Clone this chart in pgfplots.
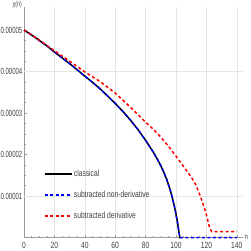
\documentclass[border=0pt]{standalone}
\usepackage{fontspec}
\setmainfont{Liberation Sans}[FakeStretch=0.75]
\newfontfamily\narrowfont{Liberation Sans}[FakeStretch=0.67]
\usepackage{pgfplots}
\pgfplotsset{compat=1.18}
\definecolor{gridc}{gray}{0.9}
\definecolor{axc}{gray}{0.6}
\definecolor{txt}{gray}{0.25}
\begin{document}
\begin{tikzpicture}
\begin{axis}[
  x=1.52bp, y=41.5bp,
  xmin=0, xmax=144, ymin=0, ymax=5.55,
  axis lines=left,
  axis line style={axc, line width=0.5bp, -},
  xtick={0,20,40,60,80,100,120,140},
  xticklabels={0,20,40,60,80,100,120,140},
  ytick={1,2,3,4,5},
  yticklabels={0.00001,0.00002,0.00003,0.00004,0.00005},
  minor x tick num=3, minor y tick num=3,
  tick align=inside,
  major tick length=3bp, minor tick length=1.8bp,
  tick style={axc, line width=0.5bp},
  every tick label/.append style={font=\fontsize{9}{10}\selectfont, text=txt},
  xticklabel style={inner sep=1bp, yshift=-3.5bp},
  yticklabel style={inner sep=1bp, xshift=-0.5bp, font=\narrowfont\fontsize{9}{10}\selectfont},
  xmajorgrids,
  grid style={gridc, line width=0.5bp},
  extra y ticks={1,4}, extra y tick labels={},
  extra y tick style={grid=major, major tick length=0pt},
  clip=false,
  legend cell align=left,
  legend image code/.code={\draw[#1] (0bp,0bp) -- (27bp,0bp);},
  legend style={draw=none, fill=none, at={(axis cs:11,1.72)}, anchor=north west,
    font=\fontsize{9}{10}\selectfont, text=txt, row sep=10bp,
    nodes={inner sep=1.5bp}},
]
\coordinate (O) at (axis cs:0,0);
\addplot[black, line width=1.5bp] coordinates {
(0,5.00) (5,4.88) (10,4.75) (15,4.62) (20,4.47) (25,4.33) (30,4.19) (35,4.04)
(40,3.89) (45,3.74) (50,3.585) (55,3.41) (60,3.23) (65,3.04) (70,2.83) (75,2.60)
(80,2.34) (85,2.06) (88,1.87) (90,1.73) (92,1.57) (94,1.39) (96,1.17) (98,0.90)
(99,0.74) (100,0.56) (101,0.36) (102,0.12) (102.5,0) (103,0)
};
\addlegendentry{classical}
\addplot[blue, line width=1.5bp, dash pattern=on 3bp off 2.5bp] coordinates {
(0,5.00) (5,4.88) (10,4.75) (15,4.62) (20,4.47) (25,4.33) (30,4.19) (35,4.04)
(40,3.89) (45,3.74) (50,3.585) (55,3.41) (60,3.23) (65,3.04) (70,2.83) (75,2.60)
(80,2.34) (85,2.06) (88,1.87) (90,1.73) (92,1.57) (94,1.39) (96,1.17) (98,0.90)
(99,0.74) (100,0.56) (101,0.36) (102,0.12) (102.5,0) (140,0)
};
\addlegendentry{subtracted non-derivative}
\addplot[red, line width=1.5bp, dash pattern=on 3bp off 2.5bp] coordinates {
(0,5.00) (10,4.76) (20,4.50) (30,4.25) (40,3.99) (50,3.76) (60,3.48) (70,3.14)
(80,2.78) (85,2.61) (90,2.42) (95,2.20) (100,1.96) (105,1.71) (110,1.46) (113,1.27)
(116,1.00) (118,0.79) (120,0.55) (122,0.25) (123.5,0.14) (140,0.14)
};
\addlegendentry{subtracted derivative}
\node[anchor=east, inner sep=0pt, font=\fontsize{7}{8}\selectfont, text=txt]
  at ([xshift=-2bp,yshift=2bp]axis cs:0,5.55) {χ(n)};
\node[anchor=west, inner sep=0pt, font=\fontsize{8}{9}\selectfont, text=txt]
  at ([xshift=1.5bp]axis cs:144,0) {n};
\end{axis}
\pgfresetboundingbox
\path[use as bounding box] ([shift={(-24bp,-13.5bp)}]O) rectangle ([shift={(227bp,237.5bp)}]O);
\end{tikzpicture}
\end{document}
